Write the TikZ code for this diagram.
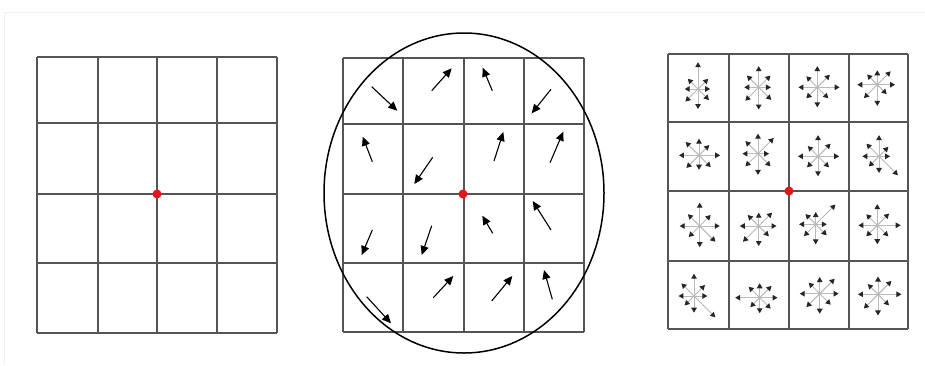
\documentclass[tikz,border=0pt]{standalone}
\usetikzlibrary{arrows.meta}
\definecolor{gridc}{HTML}{555555}
\definecolor{dotred}{HTML}{E8141B}
\tikzset{
  gridline/.style={draw=gridc, line width=2.2pt},
  flow/.style={draw=black, line width=1.1pt, -{Triangle[length=9pt,width=8pt]}},
  bin/.style={draw=gray!55, line width=1pt, -{Triangle[length=5pt,width=5.5pt,color=black!85]}},
  reddot/.style={circle, fill=dotred, inner sep=0pt, minimum size=9pt},
  frame/.style={draw=gray!12, line width=0.8pt}
}
\begin{document}
\begin{tikzpicture}[x=1pt,y=-1pt]
\useasboundingbox (0,0) rectangle (925,365);
\fill[white] (0,0) rectangle (925,365);
\draw[frame] (4,365) -- (4,12) -- (925,12);

% ---- left grid
\foreach \x in {37,98,157,217,277} \draw[gridline] (\x,57) -- (\x,333);
\foreach \y in {57,123,194,263,333} \draw[gridline] (37,\y) -- (277,\y);
\node[reddot] (p1) at (157,194) {};

% ---- middle grid
\foreach \x in {343,403,464,524,584} \draw[gridline] (\x,58) -- (\x,332);
\foreach \y in {58,124,194,263,332} \draw[gridline] (343,\y) -- (584,\y);
\draw[black, line width=1.5pt] (464,193) ellipse [x radius=140, y radius=160];
\foreach \xa/\ya/\xb/\yb in {
  371.7/86.7/397.3/110.7, 431.7/90.7/451.7/68.3, 492.3/90.7/482.7/67.7, 551/89.3/531.7/113.3,
  372.3/161.7/362.7/136.7, 432.7/157.3/414.3/184, 494/161/503.3/132, 550/162.7/563.3/131.7,
  372.3/230/361.7/255, 431.7/225.7/421.7/255, 492.7/233.3/482.3/215.7, 551/230/532.7/201,
  366.7/296.7/391/323.3, 433.3/297.7/453.3/276, 491.7/301/512.3/276, 552.3/299.3/544/270}
  \draw[flow] (\xa,\ya) -- (\xb,\yb);
\node[reddot] (p2) at (463,194) {};

% ---- right grid
\foreach \x in {668,729,789,849,908} \draw[gridline] (\x,54) -- (\x,329);
\foreach \y in {54,122,191,261,329} \draw[gridline] (668,\y) -- (908,\y);
% lengths: E NE N NW W SW S SE
\foreach \cx/\cy/\la/\lb/\lc/\ld/\le/\lf/\lg/\lh in {
  698/89/10/12/23/12/11/15/17/13,
  758.7/87.3/10/14/18/14/12/16/19/15,
  817.3/87.3/19/15/18/13/16/13/17/13,
  877.3/84.7/15/16/12/12/17/16/18/11,
  699/155.3/18/12/14/16/17/15/12/14,
  758/153.7/9/19/17/15/13/15/18/15,
  818/156.3/18/15/18/12/17/13/17/13,
  879/156.3/9/11/18/15/14/12/14/23,
  699.7/226/17/13/20/14/17/13/18/19,
  758.7/226/15/16/11/13/16/19/17/12,
  815.7/224.3/9/24/10/12/14/14/17/13,
  877.3/225.3/20/14/18/13/16/13/16/13,
  694/296/11/13/19/15/13/11/14/26,
  759.7/297.7/15/14/12/13/21/11/13/13,
  819.7/293.7/16/18/14/13/17/16/17/13,
  878/294.3/20/16/15/12/17/17/18/13}
{
  \foreach \ang/\len in {0/\la,45/\lb,90/\lc,135/\ld,180/\le,225/\lf,270/\lg,315/\lh}
    \draw[bin] (\cx,\cy) -- ({\cx+(\len*1.12+1)*cos(\ang)},{\cy-(\len*1.12+1)*sin(\ang)});
}
\node[reddot] (p3) at (789,191) {};
\end{tikzpicture}
\end{document}
